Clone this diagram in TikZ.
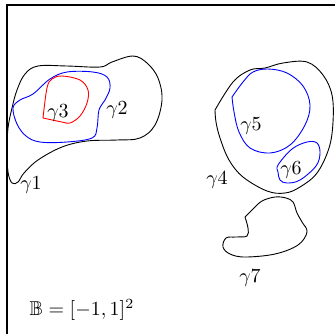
\documentclass[tikz,border=0pt]{standalone}
\usepackage{amssymb}
\usepackage{tikz}
\usetikzlibrary{positioning}

\begin{document}
\begin{tikzpicture}[
  x=0.5pt, y=-0.5pt,
  crv/.style={line width=0.45pt, black},
  lbl/.style={inner sep=1pt, font=\normalsize},
]
\useasboundingbox (0,0) rectangle (335,333);
\clip (0,0) rectangle (335,333);

% Box
\draw[line width=0.8pt] (7,5) rectangle (420,420);

% Left group
\draw[crv] plot[smooth cycle, tension=0.6] coordinates {(8,128) (12,108) (17,90) (25,74) (38,66) (67,66) (100,67) (112,62) (133,56) (147,63) (158,78) (162,100) (155,125) (140,138) (117,140) (87,141) (62,147) (38,160) (24,173) (18,182) (12,183) (8,172) (7,150)};
\draw[crv, blue] plot[smooth cycle, tension=0.6] coordinates {(13,108) (20,100) (33,94) (50,79) (67,72) (93,72) (107,77) (110,88) (105,100) (99,110) (97,128) (92,138) (67,142) (40,142) (26,136) (17,124)};
\draw[crv, red] plot[smooth, tension=0.6] coordinates {(43,118) (47,88) (52,79) (62,76) (80,80) (88,90) (87,103) (80,116) (70,123) (62,122) (43,118)};

% Right group
\draw[crv] plot[smooth, tension=0.6] coordinates {(215,110) (233,82) (250,70) (265,68) (283,63) (307,62) (323,75) (332,95) (333,122) (329,148) (317,173) (300,187) (285,193) (267,191) (243,177) (229,160) (220,138) (216,122) (215,110)};
\draw[crv, blue] plot[smooth, tension=0.6] coordinates {(232,97) (243,82) (253,72) (268,69) (287,73) (303,86) (310,105) (305,125) (290,145) (270,153) (250,148) (239,132) (234,112) (232,97)};
\draw[crv, blue] plot[smooth cycle, tension=0.6] coordinates {(278,165) (292,149) (307,142) (317,143) (320,153) (316,166) (300,180) (287,183) (280,180) (278,172)};
\draw[crv] plot[smooth, tension=0.6] coordinates {(245,217) (248,228) (247,236) (236,237) (226,238) (223,247) (230,254) (245,257) (275,254) (298,245) (307,232) (302,222) (297,213) (293,202) (286,198) (275,197) (262,201) (253,209) (245,217)};

% Labels
\node[lbl] (g1) at (31,185) {$\gamma1$};
\node[lbl] (g2) at (117,110) {$\gamma2$};
\node[lbl] (g3) at (58,113) {$\gamma3$};
\node[lbl] (g4) at (217,180) {$\gamma4$};
\node[lbl] (g5) at (251,126) {$\gamma5$};
\node[lbl] (g6) at (291,170) {$\gamma6$};
\node[lbl] (g7) at (250,278) {$\gamma7$};
\node[lbl] (bb) at (82,310) {$\mathbb{B}=[-1,1]^2$};

\end{tikzpicture}
\end{document}
